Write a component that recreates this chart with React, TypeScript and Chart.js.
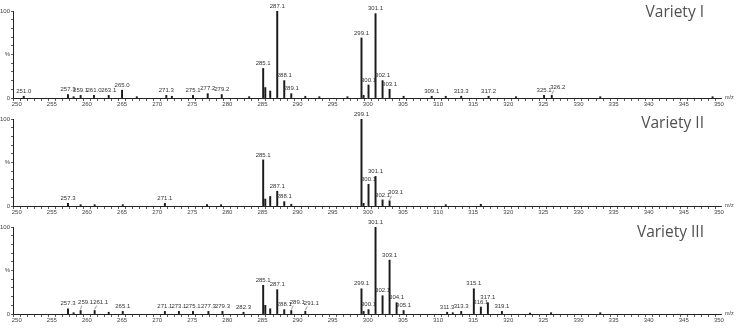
import React, { useEffect, useRef } from "react";
import { Chart, registerables } from "chart.js";
Chart.register(...registerables);

// ---- Data (m/z, relative intensity %) ----
const mzI = [251.0, 257.3, 259.1, 261.0, 263.1, 265.0, 271.3, 275.1, 277.2, 279.2, 285.1, 287.1, 288.1, 289.1, 299.1, 300.1, 301.1, 302.1, 303.1, 309.1, 313.3, 317.2, 325.1, 326.2];
const intI = [2, 4, 3, 3, 3, 9, 3, 3, 5, 4, 34, 100, 20, 5, 69, 15, 97, 20, 10, 2, 2, 2, 3, 3];
const minorMzI = [258.1, 267.1, 272.1, 283.1, 285.4, 286.1, 291.1, 293.1, 297.1, 299.4, 305.1, 311.1, 321.1, 333.1, 349.1];
const minorIntI = [1.5, 1.5, 2, 1.5, 12, 8, 2, 1.5, 1.5, 3, 2, 2, 1.5, 1.5, 1.5];

const mzII = [257.3, 271.1, 285.1, 287.1, 288.1, 299.1, 300.1, 301.1, 302.1, 303.1];
const intII = [3, 3, 53, 17, 5, 100, 25, 34, 7, 6];
const minorMzII = [259.1, 261.1, 265.1, 277.1, 279.1, 285.4, 286.1, 289.1, 299.4, 311.1, 316.1];
const minorIntII = [1.5, 1.5, 1.5, 1.5, 1.5, 8, 11, 2, 3, 1.5, 2];

const mzIII = [257.3, 259.1, 261.1, 265.1, 271.1, 273.1, 275.1, 277.3, 279.3, 282.3, 285.1, 287.1, 288.1, 289.1, 291.1, 299.1, 300.1, 301.1, 302.1, 303.1, 304.1, 305.1, 311.3, 313.3, 315.1, 316.1, 317.1, 319.1];
const intIII = [6, 4, 4, 3, 3, 3, 3, 3, 3, 2, 33, 28, 5, 4, 3, 29, 5, 100, 21, 62, 13, 4, 2, 3, 29, 8, 13, 3];
const minorMzIII = [258.1, 263.1, 285.4, 286.1, 299.4, 312.1, 323.1, 326.1, 333.1];
const minorIntIII = [1.5, 2, 10, 6, 3, 1.5, 1, 1.5, 1.5];

const titles = ["Variety I", "Variety II", "Variety III"];
const xMin = 249.47;
const xMax = 350.3;
const xLabelStep = 5;
const yTickText: Record<number, string> = { 0: "0", 50: "%", 100: "100" };

// label offsets (style only): [dx, dy] in px
const offsetsI: Record<string, [number, number]> = { "326.2": [6, -3] };
const offsetsII: Record<string, [number, number]> = { "303.1": [6, -3] };
const offsetsIII: Record<string, [number, number]> = { "259.1": [5, -3], "261.1": [6, -3], "289.1": [6, -3], "291.1": [6, -3] };

const FONT = '"Liberation Sans", Arial, sans-serif';

type SpecProps = {
  mz: number[];
  inten: number[];
  minorMz: number[];
  minorInt: number[];
  offsets: Record<string, [number, number]>;
};

function Spectrum({ mz, inten, minorMz, minorInt, offsets }: SpecProps) {
  const ref = useRef<HTMLCanvasElement | null>(null);
  useEffect(() => {
    if (!ref.current) return;
    const pts = [
      ...mz.map((x, i) => ({ x, y: inten[i] })),
      ...minorMz.map((x, i) => ({ x, y: minorInt[i] })),
    ].sort((a, b) => a.x - b.x);

    const labelPlugin = {
      id: "peakLabels",
      afterDatasetsDraw(chart: any) {
        const { ctx, chartArea } = chart;
        const xs = chart.scales.x;
        const ys = chart.scales.y;
        ctx.save();
        ctx.font = `6px ${FONT}`;
        ctx.fillStyle = "#333";
        ctx.strokeStyle = "#555";
        ctx.lineWidth = 0.6;
        ctx.textAlign = "center";
        ctx.textBaseline = "bottom";
        mz.forEach((m, i) => {
          const px = xs.getPixelForValue(m);
          const py = ys.getPixelForValue(inten[i]);
          const key = m.toFixed(1);
          const off = offsets[key];
          if (off) {
            ctx.beginPath();
            ctx.moveTo(px, py - 1);
            ctx.lineTo(px + off[0] - 4, py + off[1] - 2);
            ctx.stroke();
            ctx.fillText(key, px + off[0], py - 2 + off[1]);
          } else {
            ctx.fillText(key, px, py - 2);
          }
        });
        ctx.textAlign = "left";
        ctx.textBaseline = "middle";
        ctx.font = `5.5px ${FONT}`;
        ctx.fillStyle = "#444";
        ctx.fillText("m/z", chartArea.right + 4, chartArea.bottom - 1);
        ctx.restore();
      },
    };

    const chart = new Chart(ref.current, {
      type: "bar",
      data: {
        datasets: [
          {
            data: pts as any,
            backgroundColor: "#1a1a1a",
            borderWidth: 0,
            barThickness: 1.3,
          } as any,
        ],
      },
      options: {
        animation: false,
        responsive: false,
        devicePixelRatio: 1,
        layout: { padding: { left: 0, right: 22, top: 11, bottom: 0 } },
        plugins: { legend: { display: false }, tooltip: { enabled: false } },
        scales: {
          x: {
            type: "linear",
            min: xMin,
            max: xMax,
            offset: false,
            afterFit: (s: any) => {
              s.height = 12;
            },
            ticks: {
              stepSize: 1,
              includeBounds: false,
              maxTicksLimit: 300,
              autoSkip: false,
              maxRotation: 0,
              minRotation: 0,
              padding: 0,
              font: { size: 6, family: FONT },
              color: "#444",
              callback: (v: any) => {
                const n = Math.round(Number(v) * 10) / 10;
                return Number.isInteger(n) && n % xLabelStep === 0 ? String(n) : "";
              },
            },
            grid: { drawOnChartArea: false, tickLength: 3, color: "#333", lineWidth: 0.8 },
            border: { color: "#222", width: 1 },
          },
          y: {
            min: 0,
            max: 100,
            afterFit: (s: any) => {
              s.width = 13;
            },
            ticks: {
              stepSize: 10,
              autoSkip: false,
              padding: 1,
              font: { size: 6, family: FONT },
              color: "#444",
              callback: (v: any) => yTickText[Number(v)] ?? "",
            },
            grid: { drawOnChartArea: false, tickLength: 2, color: "#333", lineWidth: 0.8 },
            border: { color: "#222", width: 1 },
          },
        },
      } as any,
      plugins: [labelPlugin],
    });
    return () => chart.destroy();
  }, []);
  return <canvas ref={ref} width={743} height={110} style={{ display: "block" }} />;
}

const titleStyle: React.CSSProperties = {
  position: "absolute",
  right: 39,
  fontFamily: '"Open Sans", "Noto Sans", sans-serif',
  fontSize: 15.5,
  lineHeight: "15.5px",
  color: "#505050",
  whiteSpace: "nowrap",
};

export default function App() {
  const panels = [
    { mz: mzI, inten: intI, minorMz: minorMzI, minorInt: minorIntI, offsets: offsetsI, top: 0, titleTop: 4 },
    { mz: mzII, inten: intII, minorMz: minorMzII, minorInt: minorIntII, offsets: offsetsII, top: 108, titleTop: 114.5 },
    { mz: mzIII, inten: intIII, minorMz: minorMzIII, minorInt: minorIntIII, offsets: offsetsIII, top: 216, titleTop: 224 },
  ];
  return (
    <div style={{ position: "absolute", left: 0, top: 0, width: 743, height: 332, background: "#fff", overflow: "hidden" }}>
      {panels.map((p, i) => (
        <div key={i} style={{ position: "absolute", left: 0, top: p.top, width: 743, height: 110, zIndex: 3 - i }}>
          <Spectrum mz={p.mz} inten={p.inten} minorMz={p.minorMz} minorInt={p.minorInt} offsets={p.offsets} />
        </div>
      ))}
      {panels.map((p, i) => (
        <div key={"t" + i} style={{ ...titleStyle, top: p.titleTop, zIndex: 5 }}>
          {titles[i]}
        </div>
      ))}
    </div>
  );
}
